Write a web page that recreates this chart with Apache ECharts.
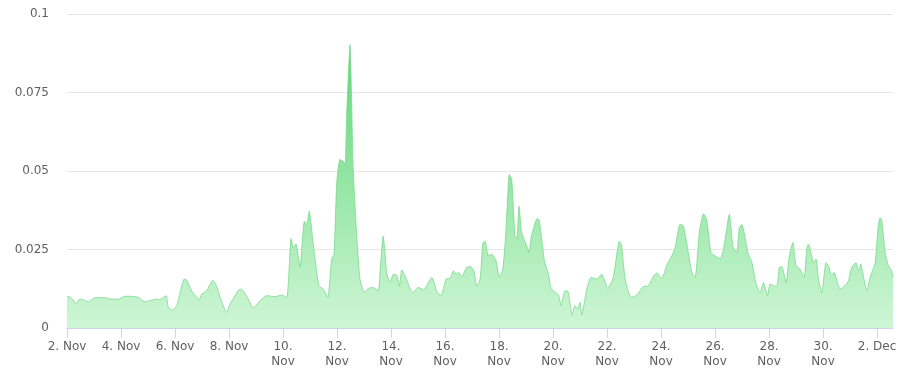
<!DOCTYPE html>
<html>
<head>
<meta charset="utf-8">
<script src="https://cdn.jsdelivr.net/npm/echarts@6/dist/echarts.min.js"></script>
<style>
html,body{margin:0;padding:0;background:#fff;}
#chart{width:909px;height:369px;}
</style>
</head>
<body>
<div id="chart"></div>
<script>
// Start date of the series (2 Nov), x values are days after it
var startYear = 2023, startMonth = 10, startDay = 2;
var monthNames = ['Jan','Feb','Mar','Apr','May','Jun','Jul','Aug','Sep','Oct','Nov','Dec'];

var dayOffsets = [
0.00,0.11,0.21,0.33,0.48,0.60,0.79,0.97,1.10,1.47,1.59,1.90,2.15,2.40,2.64,2.89,3.07,3.32,3.44,3.67,
3.75,3.91,4.06,4.19,4.34,4.43,4.62,4.90,4.99,5.17,5.40,5.54,5.67,5.91,6.04,6.41,6.53,6.71,6.90,7.03,
7.40,7.70,7.95,8.14,8.30,8.38,8.48,8.63,8.79,8.88,8.97,9.12,9.33,9.49,9.66,9.80,9.89,9.99,10.11,10.23,
10.30,10.36,10.48,10.60,10.73,10.85,11.01,11.16,11.34,11.53,11.59,11.71,11.84,11.96,12.09,12.21,12.31,12.40,12.52,12.80,
13.01,13.20,13.51,13.69,13.85,14.04,14.19,14.31,14.41,14.49,14.62,14.80,14.93,15.07,15.17,15.30,15.40,15.48,15.60,15.73,
15.89,16.01,16.14,16.26,16.38,16.47,16.59,16.66,16.74,16.84,17.03,17.11,17.19,17.27,17.40,17.48,17.58,17.68,17.83,17.93,
18.20,18.30,18.44,18.54,18.71,18.81,18.91,19.00,19.06,19.25,19.41,19.62,19.80,20.03,20.23,20.46,20.54,20.67,20.89,21.10,
21.34,21.53,21.66,21.84,22.03,22.21,22.40,22.52,22.70,22.83,23.14,23.26,23.42,23.57,23.69,23.85,24.00,24.19,24.31,24.53,
24.66,24.80,24.90,24.99,25.23,25.36,25.52,25.67,25.79,25.94,26.04,26.19,26.29,26.38,26.47,26.63,26.75,26.88,27.00,27.15,
27.30,27.40,27.46,27.58,27.64,27.74,27.83,27.95,28.11,28.20,28.32,28.41,28.63,28.81,28.94,29.06,29.22,29.31,29.40,29.49,
29.62,29.74,29.93,30.03,30.11,30.17,30.30,30.42,30.54,30.59
];

var values = [
0.0101,0.0099,0.0092,0.0076,0.0092,0.0090,0.0083,0.0094,0.0097,0.0096,0.0092,0.0092,0.0101,0.0101,0.0097,0.0083,0.0087,0.0092,0.0090,0.0103,
0.0066,0.0057,0.0071,0.0113,0.0156,0.0153,0.0118,0.0090,0.0108,0.0118,0.0152,0.0134,0.0097,0.0050,0.0076,0.0124,0.0118,0.0092,0.0063,0.0076,
0.0103,0.0100,0.0105,0.0097,0.0285,0.0256,0.0267,0.0193,0.0340,0.0330,0.0372,0.0267,0.0134,0.0124,0.0097,0.0219,0.0235,0.0463,0.0537,0.0531,
0.0520,0.0685,0.0902,0.0505,0.0293,0.0156,0.0113,0.0126,0.0129,0.0118,0.0177,0.0293,0.0177,0.0145,0.0171,0.0168,0.0134,0.0185,0.0166,0.0113,
0.0129,0.0122,0.0161,0.0118,0.0103,0.0156,0.0158,0.0182,0.0171,0.0177,0.0164,0.0193,0.0196,0.0182,0.0134,0.0156,0.0270,0.0277,0.0230,0.0235,
0.0214,0.0161,0.0187,0.0314,0.0489,0.0473,0.0293,0.0283,0.0388,0.0304,0.0261,0.0240,0.0290,0.0314,0.0348,0.0346,0.0283,0.0214,0.0171,0.0126,
0.0105,0.0071,0.0118,0.0118,0.0041,0.0071,0.0060,0.0082,0.0041,0.0124,0.0161,0.0156,0.0171,0.0126,0.0161,0.0277,0.0261,0.0156,0.0097,0.0105,
0.0132,0.0134,0.0156,0.0175,0.0158,0.0200,0.0230,0.0256,0.0330,0.0325,0.0177,0.0161,0.0304,0.0364,0.0346,0.0240,0.0230,0.0220,0.0250,0.0362,
0.0261,0.0240,0.0320,0.0330,0.0235,0.0210,0.0140,0.0113,0.0145,0.0103,0.0140,0.0134,0.0134,0.0193,0.0196,0.0145,0.0230,0.0272,0.0198,0.0187,
0.0161,0.0256,0.0267,0.0230,0.0208,0.0219,0.0156,0.0113,0.0208,0.0198,0.0166,0.0177,0.0124,0.0134,0.0150,0.0193,0.0208,0.0182,0.0203,0.0166,
0.0118,0.0161,0.0208,0.0314,0.0351,0.0345,0.0240,0.0198,0.0182,0.0160
];

var xTickDays = [0,2,4,6,8,10,12,14,16,18,20,22,24,26,28,30];
var xMaxDay = 30.59;

function dayLabel(v){
  var d = new Date(Date.UTC(startYear, startMonth, startDay) + Math.round(v) * 86400000);
  var day = d.getUTCDate();
  var m = monthNames[d.getUTCMonth()];
  return day < 10 ? (day + '. ' + m) : (day + '.\n' + m);
}

var seriesData = dayOffsets.map(function(t, i){ return [t, values[i]]; });

var chart = echarts.init(document.getElementById('chart'), null, {renderer: 'canvas'});
chart.setOption({
  animation: false,
  grid: {left: 67, right: 16, top: 14, bottom: 40, containLabel: false},
  xAxis: {
    type: 'value',
    min: 0,
    max: xMaxDay,
    axisLine: {show: true, lineStyle: {color: '#ccd6eb', width: 1}},
    axisTick: {show: true, length: 10, lineStyle: {color: '#ccd6eb'}, customValues: xTickDays},
    axisLabel: {
      customValues: xTickDays,
      formatter: dayLabel,
      color: '#5f5f5f',
      fontSize: 12,
      fontFamily: 'DejaVu Sans',
      lineHeight: 15,
      margin: 11
    },
    splitLine: {show: false}
  },
  yAxis: {
    type: 'value',
    min: 0,
    max: 0.1,
    interval: 0.025,
    axisLine: {show: false},
    axisTick: {show: false},
    axisLabel: {
      color: '#5f5f5f',
      fontSize: 12,
      fontFamily: 'DejaVu Sans',
      margin: 18,
      formatter: function(v){ return String(+v.toFixed(3)); }
    },
    splitLine: {show: true, lineStyle: {color: '#e6e6e6', width: 1}}
  },
  series: [{
    type: 'line',
    data: seriesData,
    smooth: 0.18,
    symbol: 'none',
    lineStyle: {width: 1, color: 'rgba(115,215,135,0.75)'},
    areaStyle: {
      opacity: 1,
      color: new echarts.graphic.LinearGradient(0, 0, 0, 1, [
        {offset: 0, color: 'rgb(95,214,120)'},
        {offset: 1, color: 'rgb(206,246,213)'}
      ])
    }
  }]
});
</script>
</body>
</html>
